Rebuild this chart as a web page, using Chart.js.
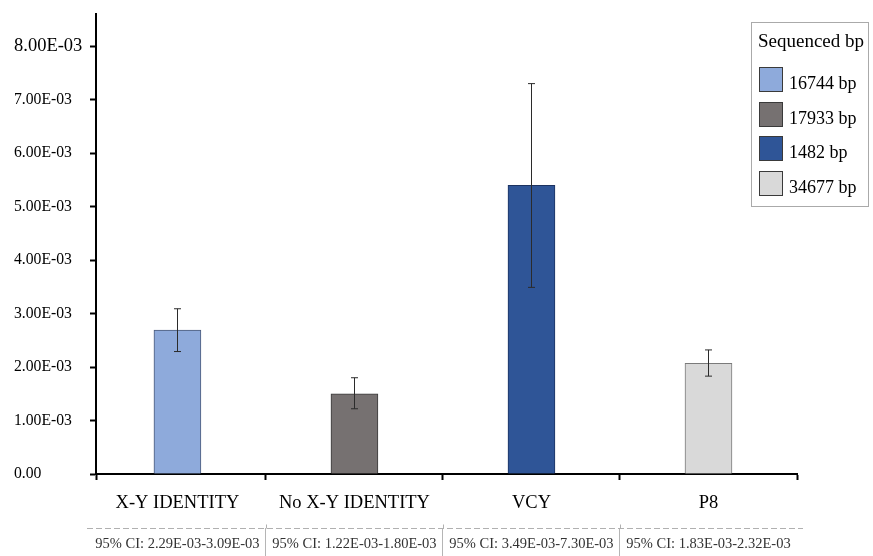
<!DOCTYPE html>
<html>
<head>
<meta charset="utf-8">
<script src="https://cdn.jsdelivr.net/npm/chart.js@4.4.1/dist/chart.umd.min.js"></script>
<style>
  html, body { margin: 0; padding: 0; background: #ffffff; }
  #wrap { width: 873px; height: 556px; }
</style>
</head>
<body>
<div id="wrap"><canvas id="chart" width="873" height="556"></canvas></div>
<script>
// Mutation rate per group with 95% confidence interval
const categories = ['X-Y IDENTITY', 'No X-Y IDENTITY', 'VCY', 'P8'];
const meanRates = [2.69e-3, 1.50e-3, 5.40e-3, 2.07e-3];
const ciLower = [2.29e-3, 1.22e-3, 3.49e-3, 1.83e-3];
const ciUpper = [3.09e-3, 1.80e-3, 7.30e-3, 2.32e-3];
const sequencedBp = ['16744 bp', '17933 bp', '1482 bp', '34677 bp'];
const legendTitle = 'Sequenced bp';
const yTickValues = [0, 1e-3, 2e-3, 3e-3, 4e-3, 5e-3, 6e-3, 7e-3, 8e-3];
const yTickLabels = ['0.00', '1.00E-03', '2.00E-03', '3.00E-03', '4.00E-03',
                     '5.00E-03', '6.00E-03', '7.00E-03', '8.00E-03'];

const fillColors = ['#8eaadb', '#767171', '#2f5597', '#d9d9d9'];
const edgeColors = ['#4a5a7a', '#3a3a3a', '#1c3260', '#7a7a7a'];

const fmtSci = v => v.toExponential(2).toUpperCase().replace(/E-(\d)$/, 'E-0$1');
const ciLabels = ciLower.map((lo, i) => '95% CI: ' + fmtSci(lo) + '-' + fmtSci(ciUpper[i]));

// x positions: one unit per group, tick marks between groups
const X_MIN = -0.46, X_MAX = 3.5;
const xTickValues = [X_MIN, 0, 0.5, 1, 1.5, 2, 2.5, 3, 3.5];
const ciTickValues = [0, 0.5, 1, 1.5, 2, 2.5, 3];
const isHalf = v => Math.abs(v - Math.round(v)) > 1e-9;

const SERIF = "'Liberation Serif', 'Times New Roman', serif";
Chart.defaults.font.family = SERIF;
Chart.defaults.color = '#000';

// Error bars from the CI bounds
const errorBars = {
  id: 'errorBars',
  afterDatasetsDraw(chart) {
    const ctx = chart.ctx;
    const y = chart.scales.y;
    const meta = chart.getDatasetMeta(0);
    ctx.save();
    ctx.strokeStyle = '#2b2b2b';
    ctx.lineWidth = 1;
    meta.data.forEach((bar, i) => {
      const x = Math.round(bar.x) + 0.5;
      const yt = y.getPixelForValue(ciUpper[i]);
      const yb = y.getPixelForValue(ciLower[i]);
      ctx.beginPath();
      ctx.moveTo(x, yt); ctx.lineTo(x, yb);
      ctx.moveTo(x - 3.5, yt); ctx.lineTo(x + 3.5, yt);
      ctx.moveTo(x - 3.5, yb); ctx.lineTo(x + 3.5, yb);
      ctx.stroke();
    });
    ctx.restore();
  }
};

// Dashed rule above the CI row, with the cell dividers poking through it
const ciRule = {
  id: 'ciRule',
  afterDraw(chart) {
    const ctx = chart.ctx;
    const s = chart.scales.ci;
    const yLine = Math.round(s.top) + 0.5;
    ctx.save();
    ctx.strokeStyle = '#b0b0b0';
    ctx.lineWidth = 1;
    ctx.setLineDash([6, 3]);
    ctx.beginPath();
    ctx.moveTo(87, yLine);
    ctx.lineTo(803, yLine);
    ctx.stroke();
    ctx.setLineDash([]);
    ctx.beginPath();
    ciTickValues.filter(isHalf).forEach(v => {
      const x = Math.round(s.getPixelForValue(v)) + 0.5;
      ctx.moveTo(x, yLine - 4);
      ctx.lineTo(x, yLine);
    });
    ctx.stroke();
    ctx.restore();
  }
};

// Boxed legend in the upper right corner
const boxedLegend = {
  id: 'boxedLegend',
  afterDraw(chart) {
    const ctx = chart.ctx;
    const left = 751, top = 22, right = 868, bottom = 206;
    ctx.save();
    ctx.strokeStyle = '#555';
    ctx.lineWidth = 1;
    ctx.setLineDash([1, 1]);
    ctx.strokeRect(left + 0.5, top + 0.5, right - left, bottom - top);
    ctx.setLineDash([]);
    ctx.fillStyle = '#000';
    ctx.textBaseline = 'alphabetic';
    ctx.textAlign = 'left';
    ctx.font = '19px ' + SERIF;
    ctx.fillText(legendTitle, 758, 46.5);
    ctx.font = '18px ' + SERIF;
    sequencedBp.forEach((txt, i) => {
      const sy = Math.round(67 + i * 34.5);
      ctx.fillStyle = fillColors[i];
      ctx.fillRect(759, sy, 23, 24);
      ctx.strokeStyle = '#3a3a3a';
      ctx.lineWidth = 1;
      ctx.strokeRect(759.5, sy + 0.5, 23, 24);
      ctx.fillStyle = '#000';
      ctx.fillText(txt, 789, sy + 21.5);
    });
    ctx.restore();
  }
};

new Chart(document.getElementById('chart'), {
  type: 'bar',
  data: {
    datasets: [{
      data: meanRates.map((v, i) => ({ x: i, y: v })),
      backgroundColor: fillColors,
      borderColor: edgeColors,
      borderWidth: 1,
      barThickness: 47
    }]
  },
  options: {
    responsive: false,
    animation: false,
    layout: { padding: { left: 14, top: 13, right: 76, bottom: 0 } },
    plugins: { legend: { display: false }, tooltip: { enabled: false } },
    scales: {
      x: {
        type: 'linear', position: 'bottom', weight: 0, offset: false,
        min: X_MIN, max: X_MAX,
        afterBuildTicks: s => { s.ticks = xTickValues.map(v => ({ value: v })); },
        afterFit: s => { s.height = 54; },
        ticks: {
          autoSkip: false, maxRotation: 0, minRotation: 0, padding: 12,
          color: '#000', font: { size: 18.5 },
          callback: v => isHalf(v) || v < 0 ? '' : categories[Math.round(v)]
        },
        grid: {
          offset: false, drawOnChartArea: false, tickLength: 6, tickWidth: 2,
          tickColor: c => (c.tick && isHalf(c.tick.value)) ? '#000' : 'rgba(0,0,0,0)'
        },
        border: { color: '#000', width: 2 }
      },
      ci: {
        type: 'linear', position: 'bottom', weight: 1, offset: false,
        min: X_MIN, max: X_MAX,
        afterBuildTicks: s => { s.ticks = ciTickValues.map(v => ({ value: v })); },
        afterFit: s => { s.height = 28; },
        ticks: {
          autoSkip: false, maxRotation: 0, minRotation: 0, padding: -23.5,
          color: '#333', font: { size: 14.5 },
          callback: v => isHalf(v) ? '' : ciLabels[Math.round(v)]
        },
        grid: {
          offset: false, drawOnChartArea: false, tickLength: 31, tickWidth: 1,
          tickColor: c => (c.tick && isHalf(c.tick.value)) ? '#b5b5b5' : 'rgba(0,0,0,0)'
        },
        border: { display: false }
      },
      y: {
        min: 0, max: 0.0086,
        afterBuildTicks: s => { s.ticks = yTickValues.map(v => ({ value: v })); },
        afterFit: s => { s.width = 82; },
        ticks: {
          crossAlign: 'far', color: '#000',
          font: c => ({ size: c.index === yTickValues.length - 1 ? 18.5 : 15.7 }),
          callback: (v, i) => yTickLabels[i]
        },
        grid: { drawOnChartArea: false, tickLength: 6, tickWidth: 2, tickColor: '#000' },
        border: { color: '#000', width: 2 }
      }
    }
  },
  plugins: [errorBars, ciRule, boxedLegend]
});
</script>
</body>
</html>
